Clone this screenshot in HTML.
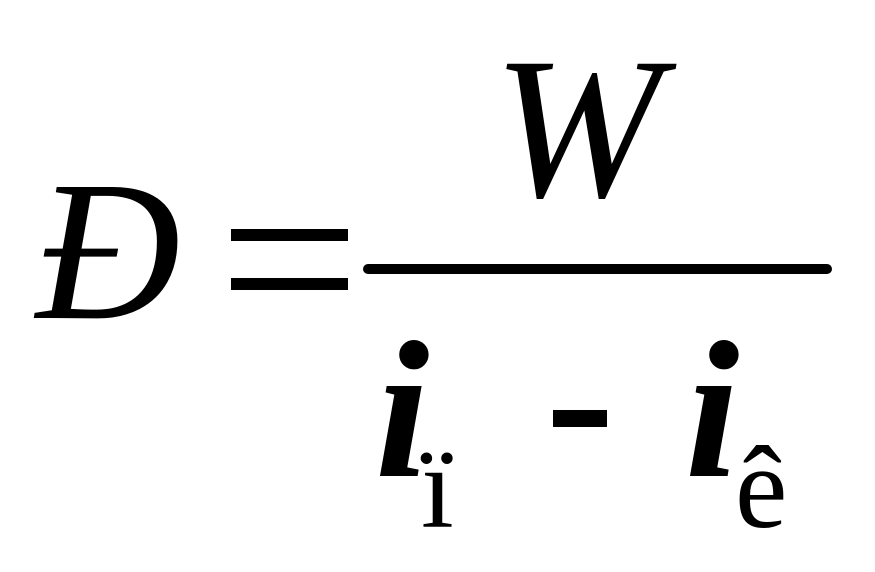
<!DOCTYPE html>
<html>
<head>
<meta charset="utf-8">
<style>
html,body{margin:0;padding:0;background:#fff;}
svg{display:block;}
</style>
</head>
<body>
<svg width="875" height="572" viewBox="0 0 875 572" xmlns="http://www.w3.org/2000/svg">
<rect width="875" height="572" fill="#fff"/>
<!-- Đ -->
<text x="36" y="318" font-family="Liberation Serif, serif" font-style="italic" font-size="200" fill="#000">Đ</text>
<!-- = -->
<rect x="231" y="229" width="117" height="12" fill="#000"/>
<rect x="231" y="278" width="117" height="12" fill="#000"/>
<!-- W -->
<text x="493" y="196" font-family="Liberation Serif, serif" font-style="italic" font-size="202" fill="#000">W</text>
<!-- fraction line -->
<line x1="368" y1="269" x2="827" y2="269" stroke="#000" stroke-width="10" stroke-linecap="round"/>
<!-- i sub ï -->
<text x="375" y="476" font-family="Liberation Serif, serif" font-style="italic" font-weight="bold" font-size="196" fill="#000">i</text>
<text x="421" y="527" font-family="Liberation Serif, serif" font-size="118" fill="#000">ï</text>
<!-- minus -->
<rect x="553" y="410" width="54" height="17" fill="#000"/>
<!-- i sub ê -->
<text x="685" y="476" font-family="Liberation Serif, serif" font-style="italic" font-weight="bold" font-size="196" fill="#000">i</text>
<text x="735" y="527" font-family="Liberation Serif, serif" font-size="118" fill="#000">ê</text>
</svg>
</body>
</html>
